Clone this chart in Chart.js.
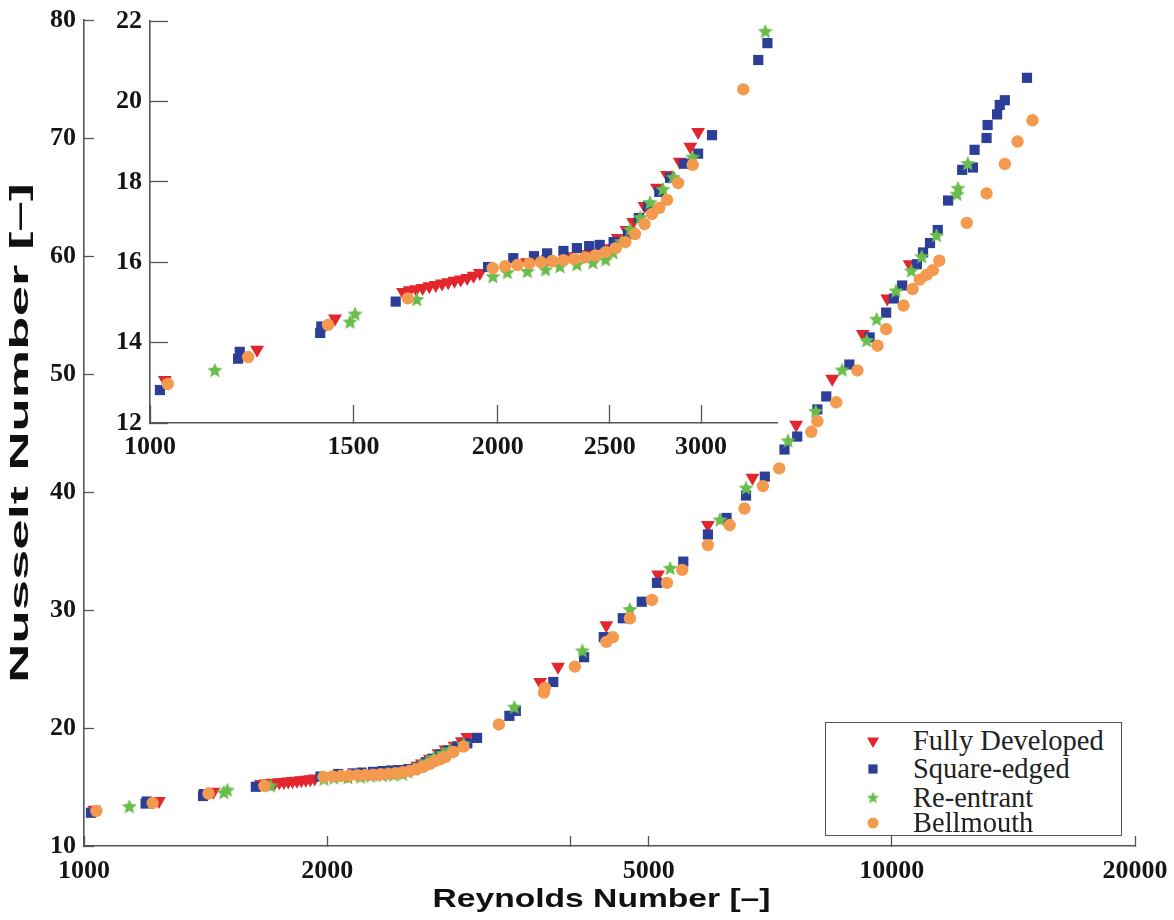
<!DOCTYPE html>
<html>
<head>
<meta charset="utf-8">
<script src="https://cdn.jsdelivr.net/npm/chart.js@4.4.0/dist/chart.umd.min.js"></script>
<style>
  html, body { margin: 0; padding: 0; background: #fff; }
  #wrap { position: relative; width: 1174px; height: 920px; overflow: hidden; }
  #main, #inset { position: absolute; left: 0; top: 0; }
  #legend {
    position: absolute; left: 825px; top: 722px; width: 297px; height: 114px;
    box-sizing: border-box; border: 1.5px solid #555; background: #fff;
    font-family: "Liberation Serif", serif; font-size: 28.5px; color: #222;
  }
  .row { position: absolute; left: 0; height: 28px; line-height: 28px; white-space: nowrap; }
  .row canvas { position: absolute; left: 35px; top: 0; }
  .row span { position: absolute; left: 87px; top: 0; }
</style>
</head>
<body>
<div id="wrap">
  <canvas id="main" width="1174" height="920"></canvas>
  <canvas id="inset" width="820" height="480"></canvas>
  <div id="legend"></div>
</div>
<script>
// Fully Developed
const fdRe = [1030, 1238, 1446, 1656, 1678, 1700, 1722, 1745, 1768, 1790, 1812, 1835, 1858, 1882, 1906, 1930,
  2120, 2210, 2300, 2390, 2470, 2541, 2585, 2620, 2680, 2747, 2803, 2875, 2936, 2982,
  3670, 3862, 4432, 5136, 5920, 6722, 7614, 8438, 9207, 9870, 10520];
const fdNu = [13.07, 13.82, 14.60, 15.26, 15.30, 15.33, 15.36, 15.40, 15.43, 15.47, 15.50, 15.54, 15.57, 15.61, 15.66, 15.73,
  16.00, 16.08, 16.15, 16.20, 16.35, 16.60, 16.80, 17.00, 17.40, 17.85, 18.17, 18.50, 18.87, 19.24,
  23.9, 25.2, 28.7, 33.0, 37.2, 41.2, 45.7, 49.6, 53.4, 56.4, 59.3];

// Square-edged
const seRe = [1020, 1192, 1196, 1404, 1407, 1632, 1962, 2063, 2150, 2207, 2280, 2342, 2400, 2451, 2520, 2593,
  2650, 2700, 2760, 2820, 2900, 2982, 3066, 3362, 3424,
  3810, 4160, 4400, 4645, 4903, 5120, 5519, 5920, 6243, 6600, 6963, 7364, 7636, 8088, 8295, 8860, 9388,
  9840, 10060, 10300, 10740, 10930, 11150, 11400, 11740, 12220, 12600, 12660, 13100, 13140, 13500, 13600, 13800, 14700];
const seNu = [12.82, 13.60, 13.77, 14.24, 14.40, 15.02, 15.88, 16.10, 16.15, 16.22, 16.28, 16.35, 16.40, 16.43, 16.50, 16.70,
  17.10, 17.40, 17.75, 18.10, 18.45, 18.70, 19.16, 21.03, 21.45,
  23.9, 26.0, 27.7, 29.3, 30.7, 32.3, 34.1, 36.4, 37.8, 39.7, 41.3, 43.6, 44.7, 47.0, 48.1, 50.8, 53.1,
  55.2, 56.4, 57.5, 59.3, 60.3, 61.1, 62.2, 64.7, 67.3, 67.5, 69.0, 70.0, 71.1, 72.0, 72.8, 73.2, 75.1];

// Re-entrant
const reRe = [1138, 1490, 1505, 1702, 1981, 2039, 2122, 2200, 2264, 2342, 2418, 2480, 2517, 2560, 2605, 2657,
  2710, 2780, 2838, 2950, 3410,
  4140, 4740, 5316, 6127, 6600, 7440, 8050, 8680, 9310, 9575, 10120, 10570, 10890, 11360, 12040, 12080, 12420];
const reNu = [13.30, 14.50, 14.70, 15.06, 15.63, 15.73, 15.76, 15.80, 15.88, 15.93, 15.98, 16.05, 16.23, 16.50, 16.80, 17.10,
  17.47, 17.80, 18.10, 18.60, 21.73,
  26.5, 30.0, 33.5, 37.6, 40.3, 44.3, 46.8, 50.3, 52.8, 54.6, 57.0, 58.7, 59.9, 61.7, 65.2, 65.7, 67.8];

// Bellmouth
const bmRe = [1036, 1216, 1426, 1672, 1980, 2030, 2080, 2130, 2180, 2230, 2280, 2330, 2380, 2430, 2480, 2530,
  2580, 2630, 2680, 2720, 2760, 2803, 2866, 2950, 3263,
  3710, 3720, 4052, 4432, 4515, 4740, 5047, 5268, 5502, 5920, 6300, 6570, 6925, 7255, 7950, 8088, 8535,
  9065, 9601, 9840, 10340, 10610, 10830, 11040, 11240, 11450, 12380, 13100, 13800, 14310, 14930];
const bmNu = [12.97, 13.64, 14.44, 15.10, 15.85, 15.90, 15.93, 15.97, 16.00, 16.03, 16.05, 16.08, 16.12, 16.17, 16.25, 16.35,
  16.50, 16.70, 16.95, 17.20, 17.35, 17.55, 17.97, 18.42, 20.30,
  23.0, 23.4, 25.2, 27.3, 27.7, 29.3, 30.85, 32.3, 33.4, 35.5, 37.2, 38.6, 40.5, 42.0, 45.1, 46.0, 47.6,
  50.3, 52.4, 53.8, 55.8, 57.2, 58.0, 58.4, 58.8, 59.6, 62.8, 65.3, 67.8, 69.7, 71.5];

const seriesNames = ['Fully Developed', 'Square-edged', 'Re-entrant', 'Bellmouth'];

const mainXTicks = [1000, 2000, 4000, 5000, 10000, 20000];
const mainXLabels = [1000, 2000, 5000, 10000, 20000];
const mainYTicks = [10, 20, 30, 40, 50, 60, 70, 80];
const insetXTicks = [1000, 1500, 2000, 2500, 3000];
const insetYTicks = [12, 14, 16, 18, 20, 22];

const xTitle = 'Reynolds Number [–]';
const yTitle = 'Nusselt Number [–]';

const RED = '#e3262d', BLUE = '#2d3e98', GREEN = '#6abd4c', ORANGE = '#f49a4f';
const tickFont = { family: 'Liberation Serif', size: 26, weight: 'bold', lineHeight: 1 };

function starCanvas(size, color) {
  const c = document.createElement('canvas');
  c.width = size; c.height = size;
  const g = c.getContext('2d');
  const R = size / 2, r = R * 0.45;
  g.beginPath();
  for (let i = 0; i < 10; i++) {
    const a = -Math.PI / 2 + i * Math.PI / 5;
    const rad = i % 2 ? r : R;
    g.lineTo(R + rad * Math.cos(a), R + rad * Math.sin(a));
  }
  g.closePath();
  g.fillStyle = color;
  g.fill();
  return c;
}

const starBig = starCanvas(16, GREEN);

function pts(xs, ys, xmax, ymax) {
  const out = [];
  xs.forEach((x, i) => {
    if (x <= xmax && ys[i] <= ymax) out.push({ x: x, y: ys[i] });
  });
  return out;
}

function makeDatasets(xmax, ymax) {
  return [
    { label: seriesNames[0], data: pts(fdRe, fdNu, xmax, ymax), pointStyle: 'triangle', pointRotation: 180,
      pointRadius: 8, backgroundColor: RED, pointBorderWidth: 0, order: 4 },
    { label: seriesNames[1], data: pts(seRe, seNu, xmax, ymax), pointStyle: 'rect',
      pointRadius: 7.2, backgroundColor: BLUE, pointBorderWidth: 0, order: 3 },
    { label: seriesNames[2], data: pts(reRe, reNu, xmax, ymax), pointStyle: starBig,
      pointRadius: 8, backgroundColor: GREEN, pointBorderWidth: 0, order: 2 },
    { label: seriesNames[3], data: pts(bmRe, bmNu, xmax, ymax), pointStyle: 'circle',
      pointRadius: 6.2, backgroundColor: ORANGE, pointBorderWidth: 0, order: 1 }
  ];
}

function noPad(s) {
  s.paddingLeft = 0; s.paddingRight = 0; s.paddingTop = 0; s.paddingBottom = 0;
}

function axisX(ticksList, labels, min, max, tickLen, pad, height) {
  return {
    type: 'logarithmic',
    min: min,
    max: max,
    afterBuildTicks: s => { s.ticks = ticksList.map(v => ({ value: v })); },
    afterFit: s => { s.height = height; noPad(s); },
    ticks: {
      autoSkip: false, maxRotation: 0, minRotation: 0, padding: pad, color: '#151515', font: tickFont,
      callback: v => labels.includes(v) ? String(v) : ''
    },
    grid: { drawOnChartArea: false, tickLength: tickLen, tickColor: '#555', tickWidth: 1.3 },
    border: { display: true, color: '#555', width: 1.6 }
  };
}

function axisY(ticksList, tickLen, pad, width) {
  return {
    type: 'linear',
    min: ticksList[0],
    max: ticksList[ticksList.length - 1],
    afterBuildTicks: s => { s.ticks = ticksList.map(v => ({ value: v })); },
    afterFit: s => { s.width = width; noPad(s); },
    ticks: { padding: pad, color: '#151515', font: tickFont, callback: v => String(v) },
    grid: { drawOnChartArea: false, tickLength: tickLen, tickColor: '#555', tickWidth: 1.3 },
    border: { display: true, color: '#555', width: 1.6 }
  };
}

// stretched axis titles, as in the source figure
const axisTitlePlugin = {
  id: 'axisTitles',
  afterDraw(chart) {
    const ctx = chart.ctx;
    const a = chart.chartArea;
    const items = [
      { text: xTitle, x: (a.left + a.right) / 2 - 8, y: 900, rot: 0, len: 338 },
      { text: yTitle, x: 21, y: (a.top + a.bottom) / 2, rot: -Math.PI / 2, len: 500 }
    ];
    ctx.save();
    ctx.font = 'bold 25px "Liberation Sans"';
    ctx.fillStyle = '#111';
    ctx.textAlign = 'center';
    ctx.textBaseline = 'middle';
    items.forEach(t => {
      const w = ctx.measureText(t.text).width;
      ctx.save();
      ctx.translate(t.x, t.y);
      ctx.rotate(t.rot);
      ctx.scale(t.len / w, 1);
      ctx.fillText(t.text, 0, 0);
      ctx.restore();
    });
    ctx.restore();
  }
};

// main chart
new Chart(document.getElementById('main'), {
  type: 'scatter',
  data: { datasets: makeDatasets(20000, 80) },
  options: {
    responsive: false,
    animation: false,
    clip: false,
    layout: { padding: { top: 20, right: 39, left: 0, bottom: 0 } },
    plugins: { legend: { display: false }, tooltip: { enabled: false } },
    scales: {
      x: axisX(mainXTicks, mainXLabels, 1000, 20000, -10, 22, 74),
      y: axisY(mainYTicks, -10, 18, 84)
    }
  },
  plugins: [axisTitlePlugin]
});

// inset chart
new Chart(document.getElementById('inset'), {
  type: 'scatter',
  data: { datasets: makeDatasets(3490, 22) },
  options: {
    responsive: false,
    animation: false,
    layout: { padding: { top: 21, right: 43, left: 0, bottom: 0 } },
    plugins: { legend: { display: false }, tooltip: { enabled: false } },
    scales: {
      x: axisX(insetXTicks, insetXTicks, 1000, 3490, -18, 29, 57),
      y: axisY(insetYTicks, -18, 26, 150)
    }
  }
});

// legend
const legend = document.getElementById('legend');
const legendStyles = [
  { style: 'triangle', rotation: 180, radius: 7, color: RED },
  { style: 'rect', rotation: 0, radius: 6.5, color: BLUE },
  { style: starCanvas(13, GREEN), rotation: 0, radius: 7, color: GREEN },
  { style: 'circle', rotation: 0, radius: 5.5, color: ORANGE }
];
const rowTops = [4, 32, 61, 86];
seriesNames.forEach((name, i) => {
  const row = document.createElement('div');
  row.className = 'row';
  row.style.top = rowTops[i] + 'px';
  const c = document.createElement('canvas');
  c.width = 24; c.height = 28;
  const ctx = c.getContext('2d');
  ctx.fillStyle = legendStyles[i].color;
  Chart.helpers.drawPoint(ctx, {
    pointStyle: legendStyles[i].style, rotation: legendStyles[i].rotation,
    radius: legendStyles[i].radius, borderWidth: 0
  }, 12, 14);
  const span = document.createElement('span');
  span.textContent = name;
  row.appendChild(c);
  row.appendChild(span);
  legend.appendChild(row);
});
</script>
</body>
</html>
